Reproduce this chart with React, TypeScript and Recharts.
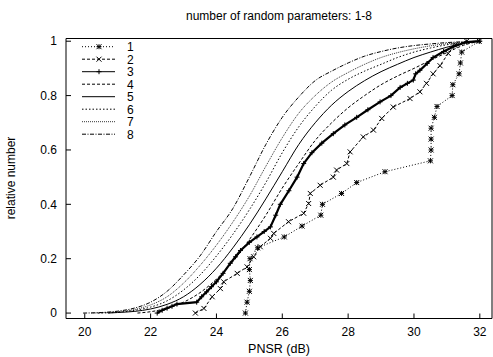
import React from "react";
import { LineChart, Line, XAxis, YAxis } from "recharts";

// PNSR (dB) / relative number pairs
const s1Pnsr = [24.88, 24.93, 25.0, 25.03, 25.0, 25.02, 25.25, 26.06, 26.6, 27.17, 27.22, 27.8, 28.26, 29.12, 30.5, 30.52, 30.52, 30.52, 30.62, 30.7, 31.16, 31.18, 31.37, 31.41, 31.45, 31.98];
const s1Rel = [0, 0.04, 0.08, 0.12, 0.16, 0.2, 0.24, 0.28, 0.32, 0.36, 0.4, 0.44, 0.48, 0.52, 0.56, 0.6, 0.64, 0.68, 0.72, 0.76, 0.8, 0.84, 0.88, 0.92, 0.96, 1];

const s2Pnsr = [23.36, 23.62, 23.87, 24.12, 24.22, 24.63, 24.93, 25.13, 25.33, 25.64, 25.74, 26.19, 26.65, 26.8, 26.85, 27.15, 27.55, 27.65, 27.96, 28.06, 28.46, 28.77, 29.02, 29.37, 29.88, 30.18, 30.38, 30.58, 30.79, 31.04, 31.24, 31.6];
const s2Rel = [0, 0.017, 0.06, 0.09, 0.115, 0.146, 0.17, 0.207, 0.244, 0.275, 0.293, 0.336, 0.367, 0.403, 0.44, 0.47, 0.5, 0.526, 0.55, 0.593, 0.648, 0.673, 0.716, 0.758, 0.789, 0.814, 0.845, 0.88, 0.91, 0.955, 0.985, 1];

const s3Pnsr = [22.2, 22.35, 22.5, 22.65, 22.8, 23.4, 23.55, 23.7, 23.85, 24.0, 24.2, 24.42, 24.58, 24.73, 25.0, 25.23, 25.45, 25.64, 25.8, 25.94, 26.2, 26.45, 26.65, 26.9, 27.2, 27.55, 27.9, 28.26, 28.6, 28.97, 29.3, 29.58, 29.8, 29.98, 30.05, 30.18, 30.4, 30.58, 30.9, 31.19, 31.6, 32];
const s3Rel = [0, 0.01, 0.018, 0.025, 0.033, 0.04, 0.06, 0.078, 0.097, 0.115, 0.146, 0.183, 0.207, 0.23, 0.26, 0.28, 0.3, 0.317, 0.36, 0.4, 0.45, 0.5, 0.55, 0.59, 0.625, 0.66, 0.692, 0.72, 0.748, 0.777, 0.8, 0.83, 0.845, 0.857, 0.88, 0.893, 0.918, 0.94, 0.962, 0.98, 0.997, 1];

const s4Pnsr = [21.6, 22, 22.5, 23, 23.5, 24, 24.5, 25, 25.5, 26, 26.5, 27, 27.5, 28, 28.5, 29, 29.5, 30, 30.5, 31, 31.5, 32];
const s4Rel = [0, 0.005, 0.018, 0.04, 0.075, 0.125, 0.19, 0.27, 0.36, 0.46, 0.55, 0.635, 0.7, 0.755, 0.8, 0.84, 0.872, 0.9, 0.93, 0.958, 0.985, 1];

const s5Pnsr = [20.7, 21, 21.5, 22, 22.5, 23, 23.5, 24, 24.5, 25, 25.5, 26, 26.5, 27, 27.5, 28, 28.5, 29, 29.5, 30, 30.5, 31, 31.5, 32];
const s5Rel = [0, 0.002, 0.006, 0.015, 0.032, 0.06, 0.105, 0.165, 0.24, 0.325, 0.42, 0.52, 0.62, 0.7, 0.765, 0.815, 0.855, 0.888, 0.915, 0.94, 0.96, 0.978, 0.992, 1];

const s6Pnsr = [20.4, 21, 21.5, 22, 22.5, 23, 23.5, 24, 24.5, 25, 25.5, 26, 26.5, 27, 27.5, 28, 28.5, 29, 29.5, 30, 30.5, 31, 31.5, 32];
const s6Rel = [0, 0.003, 0.01, 0.022, 0.045, 0.085, 0.14, 0.21, 0.29, 0.38, 0.48, 0.59, 0.685, 0.76, 0.82, 0.86, 0.89, 0.915, 0.94, 0.96, 0.975, 0.987, 0.995, 1];

const s7Pnsr = [20.2, 21, 21.5, 22, 22.5, 23, 23.5, 24, 24.5, 25, 25.5, 26, 26.5, 27, 27.5, 28, 28.5, 29, 29.5, 30, 30.5, 31, 31.5, 32];
const s7Rel = [0, 0.005, 0.013, 0.03, 0.06, 0.11, 0.175, 0.25, 0.335, 0.43, 0.54, 0.645, 0.735, 0.8, 0.85, 0.885, 0.915, 0.94, 0.958, 0.972, 0.983, 0.991, 0.997, 1];

const s8Pnsr = [19.95, 20.5, 21, 21.5, 22, 22.5, 23, 23.5, 24, 24.5, 25, 25.5, 26, 26.5, 27, 27.5, 28, 28.5, 29, 29.5, 30, 30.5, 31, 31.5, 32];
const s8Rel = [0, 0.002, 0.007, 0.018, 0.04, 0.08, 0.14, 0.21, 0.3, 0.385, 0.5, 0.62, 0.72, 0.795, 0.855, 0.89, 0.92, 0.945, 0.962, 0.975, 0.984, 0.99, 0.995, 0.998, 1];

const xTicks = [20, 22, 24, 26, 28, 30, 32];
const yTicks = [0, 0.2, 0.4, 0.6, 0.8, 1];

const W = 493;
const H = 357;
const FONT = "'Liberation Sans', Arial, Helvetica, sans-serif";

const pts = (xs: number[], ys: number[]) => xs.map((x, i) => ({ x, y: ys[i] }));

type Mark = "star" | "cross" | "plus" | null;

const series: { name: string; xs: number[]; ys: number[]; dash?: string; mark: Mark; width: number; curve: "linear" | "monotone" }[] = [
  { name: "1", xs: s1Pnsr, ys: s1Rel, dash: "1 2", mark: "star", width: 1, curve: "linear" },
  { name: "2", xs: s2Pnsr, ys: s2Rel, dash: "3 2", mark: "cross", width: 1, curve: "linear" },
  { name: "3", xs: s3Pnsr, ys: s3Rel, mark: "plus", width: 2.2, curve: "linear" },
  { name: "4", xs: s4Pnsr, ys: s4Rel, dash: "3 2", mark: null, width: 1, curve: "monotone" },
  { name: "5", xs: s5Pnsr, ys: s5Rel, mark: null, width: 1, curve: "monotone" },
  { name: "6", xs: s6Pnsr, ys: s6Rel, dash: "1.5 2", mark: null, width: 1, curve: "monotone" },
  { name: "7", xs: s7Pnsr, ys: s7Rel, dash: "1 1", mark: null, width: 0.8, curve: "monotone" },
  { name: "8", xs: s8Pnsr, ys: s8Rel, dash: "4 1.5 1 1.5", mark: null, width: 1, curve: "monotone" },
];

function Marker({ kind, cx, cy }: { kind: Mark; cx: number; cy: number }) {
  const r = 2.5;
  const plus = (
    <>
      <line x1={cx - r} y1={cy} x2={cx + r} y2={cy} />
      <line x1={cx} y1={cy - r} x2={cx} y2={cy + r} />
    </>
  );
  const cross = (
    <>
      <line x1={cx - r} y1={cy - r} x2={cx + r} y2={cy + r} />
      <line x1={cx - r} y1={cy + r} x2={cx + r} y2={cy - r} />
    </>
  );
  return (
    <g stroke="#000" strokeWidth={1} fill="none">
      {kind === "plus" && plus}
      {kind === "cross" && cross}
      {kind === "star" && (
        <>
          {plus}
          {cross}
        </>
      )}
    </g>
  );
}

const dotFor = (kind: Mark) =>
  kind
    ? (p: any) => (
        <g key={`m-${kind}-${p.index}`}>
          <Marker kind={kind} cx={p.cx} cy={p.cy} />
        </g>
      )
    : false;

const axisTick = { fill: "#000", fontSize: 12, fontFamily: FONT };

export default function App() {
  return (
    <div style={{ position: "absolute", left: 0, top: 0, width: W, height: H, background: "#fff" }}>
      <LineChart width={W} height={H} margin={{ top: 37.5, right: 0, bottom: 0, left: 0 }}>
        <XAxis
          type="number"
          dataKey="x"
          domain={[19.43, 32.37]}
          ticks={xTicks}
          allowDataOverflow
          height={38.5}
          tickSize={-5}
          tickMargin={14}
          tick={axisTick}
          stroke="#000"
          label={{ value: "PNSR (dB)", position: "insideBottom", offset: 4, fill: "#000", fontSize: 12.5, fontFamily: FONT }}
        />
        <XAxis
          xAxisId="top"
          orientation="top"
          type="number"
          dataKey="x"
          domain={[19.43, 32.37]}
          ticks={xTicks}
          allowDataOverflow
          height={1}
          tickSize={-5}
          tick={false}
          stroke="#000"
        />
        <YAxis
          type="number"
          domain={[-0.02, 1.01]}
          ticks={yTicks}
          allowDataOverflow
          width={66}
          tickSize={-5}
          tickMargin={14}
          tick={axisTick}
          tickFormatter={(v: number) => String(v)}
          stroke="#000"
        />
        <YAxis
          yAxisId="right"
          orientation="right"
          type="number"
          domain={[-0.02, 1.01]}
          ticks={yTicks}
          allowDataOverflow
          width={1}
          tickSize={-5}
          tick={false}
          stroke="#000"
        />
        {series.map((s) => (
          <Line
            key={s.name}
            data={pts(s.xs, s.ys)}
            dataKey="y"
            type={s.curve}
            stroke="#000"
            strokeWidth={s.width}
            strokeDasharray={s.dash}
            dot={dotFor(s.mark)}
            activeDot={false}
            isAnimationActive={false}
          />
        ))}
      </LineChart>
      <svg width={W} height={H} style={{ position: "absolute", left: 0, top: 0, pointerEvents: "none" }}>
        <text x={279} y={20} textAnchor="middle" fontSize={12} fontFamily={FONT} fill="#000">
          number of random parameters: 1-8
        </text>
        <text
          x={0}
          y={0}
          transform="translate(15 178) rotate(-90)"
          textAnchor="middle"
          fontSize={12}
          fontFamily={FONT}
          fill="#000"
        >
          relative number
        </text>
        {series.map((s, i) => {
          const y = 46.7 + i * 12.5;
          return (
            <g key={s.name}>
              <line x1={82} y1={y} x2={115} y2={y} stroke="#000" strokeWidth={s.width > 1 ? 1 : s.width} strokeDasharray={s.dash} />
              {s.mark && <Marker kind={s.mark} cx={99} cy={y} />}
              <text x={127} y={y + 4.3} fontSize={12} fontFamily={FONT} fill="#000">
                {s.name}
              </text>
            </g>
          );
        })}
      </svg>
    </div>
  );
}
